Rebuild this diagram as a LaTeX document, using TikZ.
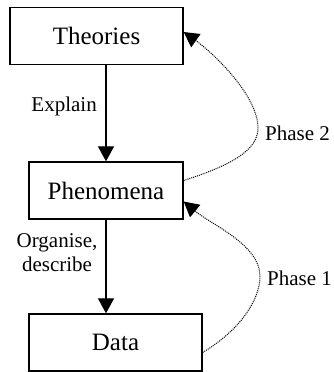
\documentclass[tikz,border=0pt]{standalone}
\usepackage{fontspec}
\setmainfont{Liberation Serif}
\usetikzlibrary{arrows.meta,calc}
\begin{document}
\begin{tikzpicture}[x=1pt,y=-1pt,
  box/.style={draw,line width=1.3pt,minimum height=57pt,inner sep=0pt,font=\fontsize{25}{28}\selectfont},
  flow/.style={line width=1.2pt,-{Triangle[length=15pt,width=16pt]}},
  phase/.style={line width=1pt,dash pattern=on 1pt off 1pt,-{Triangle[length=15pt,width=16pt]}},
  lbl/.style={font=\fontsize{21}{24}\selectfont,inner sep=0pt}]
\useasboundingbox (0,0) rectangle (333,372);
\node[box,minimum width=173pt] (theo) at (96.5,36) {Theories};
\node[box,minimum width=154pt] (phen) at (106,190.5) {Phenomena};
\node[box,minimum width=173pt] (data) at (115.5,342.5) {Data};
\draw[flow] (phen.north |- theo.south) -- (phen.north);
\draw[flow] (phen.south) -- (phen.south |- data.north);
\node[lbl,anchor=east] (explain) at (97,106) {Explain};
\node[lbl,align=center] (org) at (57,253) {Organise,\\describe};
\coordinate (p2) at (258,128);
\coordinate (p1) at (260,276);
\draw[phase] ([yshift=10pt]phen.east) .. controls (232,165) and (258,150) .. (p2)
  .. controls (258,95) and (212,52) .. ([yshift=4pt]theo.east);
\draw[phase] ([yshift=-10pt]data.east) .. controls (240,330) and (260,300) .. (p1)
  .. controls (260,245) and (212,225) .. ([yshift=-11pt]phen.east);
\node[lbl,anchor=west] (ph2) at (265,133) {Phase 2};
\node[lbl,anchor=west] (ph1) at (267,278) {Phase 1};
\end{tikzpicture}
\end{document}
